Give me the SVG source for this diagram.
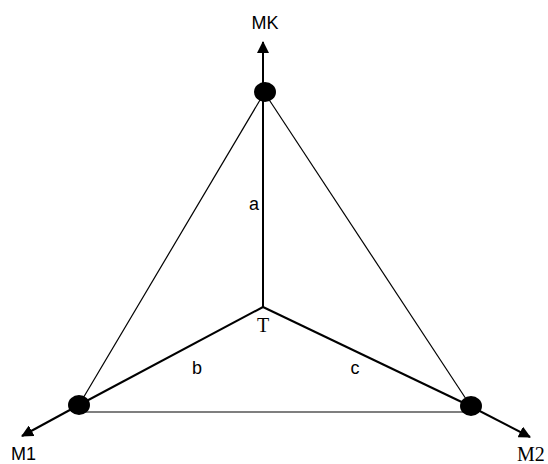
<svg xmlns="http://www.w3.org/2000/svg" width="548" height="464" viewBox="0 0 548 464">
<style>
.thin{stroke:#000;stroke-width:1.2;fill:none}
.thick{stroke:#000;stroke-width:2;fill:none}
.node{fill:#000}
.sans{font-family:"Liberation Sans",Arial,sans-serif;font-size:18px;fill:#000}
.serif{font-family:"Liberation Serif","Times New Roman",serif;font-size:20px;fill:#000}
</style>
<defs>
<marker id="arrow" viewBox="0 0 12 12" refX="11" refY="6" markerWidth="12" markerHeight="12" orient="auto" markerUnits="userSpaceOnUse">
<path d="M0,0 L12,6 L0,12 z" fill="#000"/>
</marker>
</defs>
<g id="connectors">
<line class="thin" x1="263" y1="95" x2="79" y2="405"/>
<line class="thin" x1="266" y1="95" x2="470" y2="405"/>
<line class="thin" x1="79" y1="412" x2="470" y2="412"/>
<line class="thick" x1="263" y1="307" x2="263" y2="95"/>
<line class="thick" x1="263" y1="307" x2="79" y2="405"/>
<line class="thick" x1="263" y1="307" x2="470" y2="406"/>
<line class="thick" x1="263" y1="92" x2="263" y2="42" marker-end="url(#arrow)"/>
<line class="thick" x1="79" y1="405" x2="22" y2="436" marker-end="url(#arrow)"/>
<line class="thick" x1="470" y1="406" x2="530" y2="437" marker-end="url(#arrow)"/>
</g>
<g id="nodeMK">
<ellipse class="node" cx="265" cy="92" rx="11" ry="10"/>
<text class="sans" x="265" y="29" text-anchor="middle">MK</text>
</g>
<g id="nodeM1">
<ellipse class="node" cx="79" cy="405" rx="11" ry="10"/>
<text class="sans" x="11" y="460">M1</text>
</g>
<g id="nodeM2">
<ellipse class="node" cx="471" cy="406" rx="11" ry="10"/>
<text class="serif" x="517" y="461">M2</text>
</g>
<g id="nodeT">
<text class="serif" x="263" y="332" text-anchor="middle">T</text>
</g>
<g id="labels">
<text class="sans" x="254" y="210" text-anchor="middle">a</text>
<text class="sans" x="197" y="374" text-anchor="middle">b</text>
<text class="sans" x="355" y="374" text-anchor="middle">c</text>
</g>
</svg>
